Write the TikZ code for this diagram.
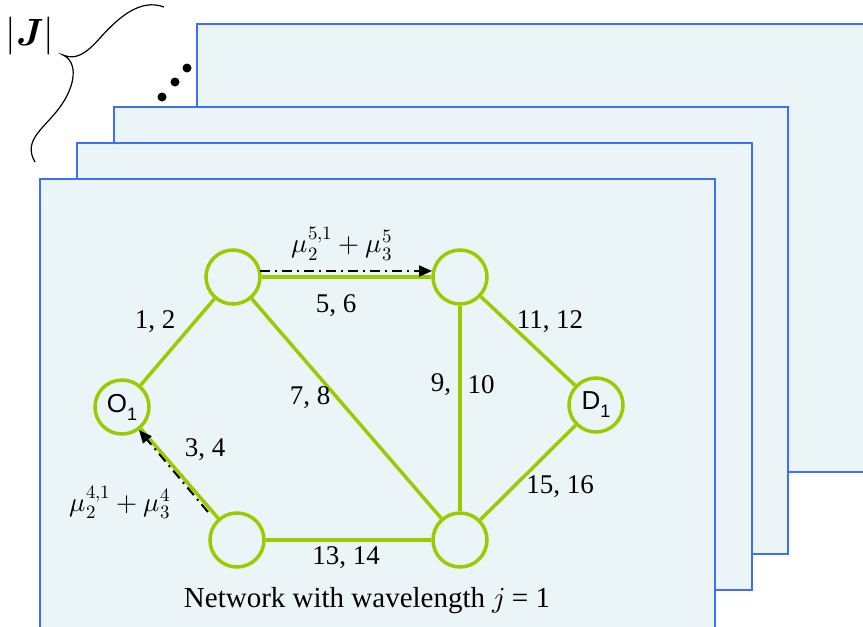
\documentclass[tikz,border=0pt]{standalone}
\usepackage{fontspec}
\usepackage{unicode-math}
\setmainfont{Liberation Serif}
\setmathfont{Latin Modern Math}
\newfontfamily\nodefont{Liberation Sans}
\usetikzlibrary{arrows.meta}

\definecolor{rectblue}{RGB}{60,110,255}
\definecolor{rectfill}{RGB}{235,244,247}
\definecolor{linkgreen}{RGB}{153,204,0}

\tikzset{
  layer/.style={draw=rectblue, fill=rectfill, line width=2.2pt},
  router/.style={circle, draw=linkgreen, fill=rectfill, line width=3.5pt, minimum size=54pt, inner sep=0pt, font=\nodefont\fontsize{26}{26}\selectfont},
  link/.style={draw=linkgreen, line width=3.5pt},
  flow/.style={line width=2pt, dash pattern=on 10pt off 5pt on 2pt off 5pt, -{Triangle[length=13pt,width=11pt]}},
  lbl/.style={font=\fontsize{27}{30}\selectfont, inner sep=0pt}
}

\begin{document}
\begin{tikzpicture}[x=1pt, y=-1pt]
        \clip (0,0) rectangle (863,627);

        % Слои сети (по одному на длину волны), сзади вперёд
        \draw[layer] (197,24) rectangle (890,472);
        \draw[layer] (114,107) rectangle (788,554);
        \draw[layer] (77,143) rectangle (752,590);
        \draw[layer] (40,179) rectangle (715,660);

        % Многоточие и фигурная скобка с |J|
        \fill (162,97) circle (4.5pt); \fill (175,82) circle (4.5pt); \fill (187,68) circle (4.5pt);
        \draw[line width=1.2pt] (164,7) .. controls (140,-2) and (118,18) .. (100,38)
              .. controls (85,55) and (75,60) .. (63,55)
              .. controls (78,62) and (76,85) .. (60,107)
              .. controls (45,128) and (22,140) .. (35,162);
        \node[font=\fontsize{38}{38}\selectfont] (card) at (30,36) {$|\symbfit{J}|$};

        % Узлы
        \node[router] (o1) at (122,407) {O\raisebox{-8pt}{\fontsize{18}{18}\selectfont 1}};
        \node[router] (na) at (233,277) {};
        \node[router] (nb) at (460,277) {};
        \node[router] (d1) at (596,405) {D\raisebox{-8pt}{\fontsize{18}{18}\selectfont 1}};
        \node[router] (nc) at (237,540) {};
        \node[router] (ne) at (460,540) {};

        % Линии связи
        \draw[link] (o1) -- (na); \draw[link] (o1) -- (nc);
        \draw[link] (na) -- (nb); \draw[link] (na) -- (ne);
        \draw[link] (nb) -- (ne); \draw[link] (nb) -- (d1);
        \draw[link] (d1) -- (ne); \draw[link] (nc) -- (ne);

        % Номера дуг
        \node[lbl] (l12) at (155,322) {1, 2};
        \node[lbl] (l56) at (336,306) {5, 6};
        \node[lbl] (l1112) at (550,322) {11, 12};
        \node[lbl] (l78) at (310,398) {7, 8};
        \node[lbl] (l9) at (441,385) {9,}; \node[lbl] (l10) at (481,385) {10};
        \node[lbl] (l34) at (205,450) {3, 4};
        \node[lbl] (l1516) at (560,487) {15, 16};
        \node[lbl] (l1314) at (346,558) {13, 14};

        % Потоки
        \coordinate (fa) at (260,271); \coordinate (fb) at (432,271);
        \draw[flow] (fa) -- (fb);
        \node[lbl] (mu5) at (342,244) {$\mu_2^{5,1} + \mu_3^5$};
        \coordinate (fc) at (208,512); \coordinate (fo) at (139,430);
        \draw[flow] (fc) -- (fo);
        \node[lbl] (mu4) at (120,502) {$\mu_2^{4,1} + \mu_3^4$};

        % Подпись
        \node[font=\fontsize{29}{32}\selectfont] (cap) at (367,601) {Network with wavelength $j$ = 1};

    \end{tikzpicture}
\end{document}
